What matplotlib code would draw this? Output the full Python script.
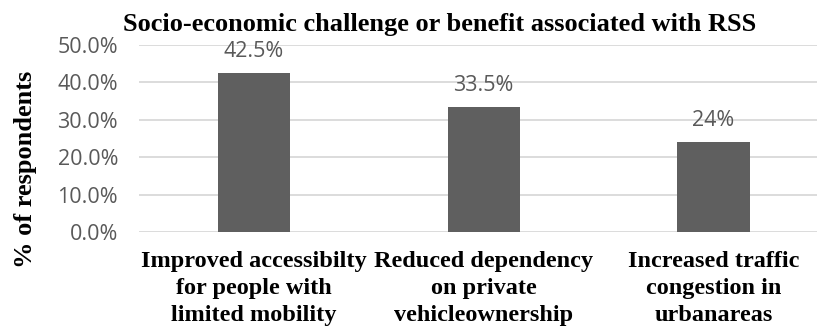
import matplotlib
matplotlib.use("Agg")
import matplotlib.pyplot as plt
from matplotlib.ticker import FuncFormatter

categories = [
    "Improved accessibilty\nfor people with\nlimited mobility",
    "Reduced dependency\non private\nvehicleownership",
    "Increased traffic\ncongestion in\nurbanareas",
]
values = [42.5, 33.5, 24.0]
value_labels = ["42.5%", "33.5%", "24%"]
y_ticks = [0, 10, 20, 30, 40, 50]

BAR = "#5f5f5f"
GRID = "#d9d9d9"
TXT = "#595959"
SERIF = ["Liberation Serif", "DejaVu Serif"]
SANS = ["Open Sans", "DejaVu Sans"]

fig = plt.figure(figsize=(8.17, 3.30), dpi=100)
ax = fig.add_axes([0.170, 0.297, 0.830, 0.567])

x = range(len(categories))
ax.bar(x, values, width=0.314, color=BAR, zorder=3)

for xi, v, lab in zip(x, values, value_labels):
    ax.annotate(lab, (xi, v), xytext=(0, 8), textcoords="offset points",
                ha="center", va="bottom", fontsize=15.5, color=TXT, family=SANS)

ax.set_xlim(-0.5, 2.45)
ax.set_ylim(0, 50)
ax.set_yticks(y_ticks)
ax.yaxis.set_major_formatter(FuncFormatter(lambda v, p: f"{v:.1f}%"))
ax.grid(axis="y", color=GRID, lw=1.3, zorder=0)
for s in ax.spines.values():
    s.set_visible(False)
ax.tick_params(axis="both", length=0)
ax.tick_params(axis="y", pad=15)

for t in ax.get_yticklabels():
    t.set_fontsize(15.5)
    t.set_color(TXT)
    t.set_family(SANS)

ax.set_xticks(list(x))
ax.set_xticklabels(categories, fontsize=17.5, fontweight="bold", family=SERIF,
                   linespacing=1.36)
ax.tick_params(axis="x", pad=14)

ax.set_ylabel("% of respondents", fontsize=19, fontweight="bold", family=SERIF)
ax.yaxis.set_label_coords(-0.167, 0.337)
ax.yaxis.label.set_va("center")
fig.text(0.538, 0.927, "Socio-economic challenge or benefit associated with RSS",
         ha="center", va="center", fontsize=19, fontweight="bold", family=SERIF)

fig.savefig("out.png", dpi=100)
